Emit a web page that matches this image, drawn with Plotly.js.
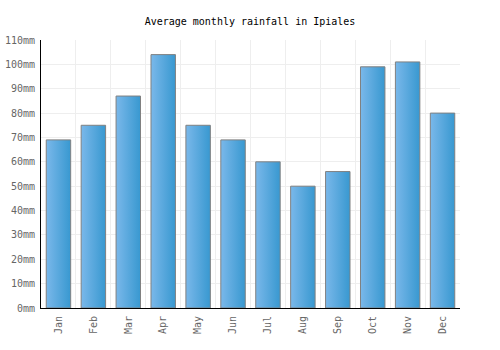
<!DOCTYPE html>
<html>
<head>
<meta charset="utf-8">
<script src="https://cdn.plot.ly/plotly-3.0.1.min.js"></script>
<style>html,body{margin:0;padding:0;background:#fff;}#chart{width:500px;height:350px;}</style>
</head>
<body>
<div id="chart"></div>
<script>
const months = ["Jan","Feb","Mar","Apr","May","Jun","Jul","Aug","Sep","Oct","Nov","Dec"];
const rainfall = [69, 75, 87, 104, 75, 69, 60, 50, 56, 99, 101, 80];
const yTicks = [0,10,20,30,40,50,60,70,80,90,100,110];

const font = "DejaVu Sans Mono, monospace";
const data = [{
  type: "bar",
  x: months,
  y: rainfall,
  marker: {color: "#4fa3dc", line: {color: "#808080", width: 1}},
  hoverinfo: "none"
}];
const layout = {
  width: 500, height: 350,
  margin: {l: 41, r: 40, t: 40, b: 42},
  paper_bgcolor: "#fff", plot_bgcolor: "#fff",
  bargap: 0.3,
  showlegend: false,
  title: {text: "Average monthly rainfall in Ipiales", font: {family: font, size: 10, color: "#000"}, x: 0.5, xanchor: "center", y: 0.94, yanchor: "middle"},
  xaxis: {
    type: "category", tickson: "boundaries", showgrid: true, gridcolor: "#eeeeee", gridwidth: 1,
    showline: true, linecolor: "#000", linewidth: 1, ticks: "", tickangle: -90, ticklabelstandoff: 3,
    tickfont: {family: font, size: 10, color: "#666"}, fixedrange: true
  },
  yaxis: {
    range: [0, 110], tickvals: yTicks, ticktext: yTicks.map(v => v + "mm"),
    showgrid: true, gridcolor: "#eeeeee", gridwidth: 1, zeroline: false, ticklabelstandoff: 3,
    showline: true, linecolor: "#000", linewidth: 1, ticks: "",
    tickfont: {family: font, size: 10, color: "#666"}, fixedrange: true
  }
};
Plotly.newPlot("chart", data, layout, {displayModeBar: false, staticPlot: true}).then(function(gd){
  const svg = gd.querySelector("svg.main-svg");
  const ns = "http://www.w3.org/2000/svg";
  let defs = svg.querySelector("defs");
  if (!defs) { defs = document.createElementNS(ns, "defs"); svg.insertBefore(defs, svg.firstChild); }
  const grad = document.createElementNS(ns, "linearGradient");
  grad.setAttribute("id", "barGrad");
  grad.setAttribute("x1", "0"); grad.setAttribute("y1", "0");
  grad.setAttribute("x2", "1"); grad.setAttribute("y2", "0");
  [["0%", "#7ab8ea"], ["100%", "#3898d0"]].forEach(function(s){
    const st = document.createElementNS(ns, "stop");
    st.setAttribute("offset", s[0]); st.setAttribute("stop-color", s[1]);
    grad.appendChild(st);
  });
  defs.appendChild(grad);
  gd.querySelectorAll(".bars .point path").forEach(function(p){
    p.style.fill = "url(#barGrad)";
  });
});
</script>
</body>
</html>
